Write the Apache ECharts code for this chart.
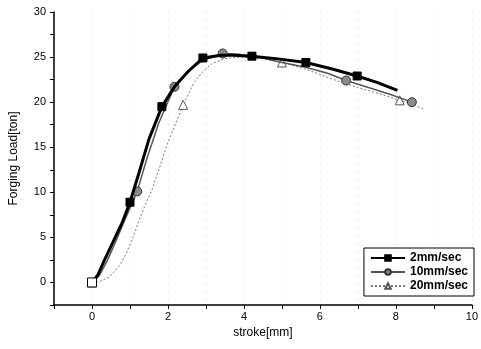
<!DOCTYPE html>
<html>
<head>
<meta charset="utf-8">
<script src="https://cdn.jsdelivr.net/npm/echarts@6/dist/echarts.min.js"></script>
<style>
  html, body { margin: 0; padding: 0; background: #fff; }
  #chart { width: 481px; height: 349px; }
</style>
</head>
<body>
<div id="chart"></div>
<script>
// curves: [stroke mm, load ton]
const curve2 = [[0, 0], [0.15, 0.8], [0.34, 2.6], [0.52, 4.2], [0.8, 6.7], [1.0, 8.9], [1.24, 12.2], [1.5, 15.9],
  [1.84, 19.5], [2.17, 21.7], [2.53, 23.4], [2.92, 24.9], [3.4, 25.2], [3.72, 25.2], [4.21, 25.1], [4.9, 24.8],
  [5.63, 24.4], [6.3, 23.7], [6.98, 22.9], [7.5, 22.2], [8.04, 21.3]]
const curve10 = [[0, 0], [0.2, 0.8], [0.4, 2.4], [0.6, 4.3], [0.85, 6.8], [1.19, 10.1], [1.45, 13.8], [1.75, 17.6],
  [2.17, 21.7], [2.5, 23.3], [2.9, 24.6], [3.44, 25.4], [3.9, 25.3], [4.5, 24.9], [5.0, 24.4], [5.6, 23.9],
  [6.2, 23.2], [6.69, 22.4], [7.3, 21.6], [7.9, 20.8], [8.42, 20.0], [8.5, 19.9]]
const curve20 = [[0, 0], [0.2, 0.1], [0.45, 0.6], [0.72, 1.8], [0.9, 3.2], [1.06, 4.8], [1.32, 7.8], [1.58, 10.3],
  [1.8, 13.0], [1.96, 15.1], [2.2, 17.6], [2.4, 19.7], [2.69, 22.2], [2.9, 23.3], [3.13, 24.2], [3.46, 24.8],
  [3.9, 25.0], [4.5, 24.8], [5.0, 24.4], [5.6, 23.7], [6.3, 22.6], [7.0, 21.6], [7.6, 20.9], [8.1, 20.2],
  [8.4, 19.8], [8.76, 19.2]]

// x positions where the symbols sit
const marks2 = [0, 1.0, 1.84, 2.92, 4.21, 5.63, 6.98]
const marks10 = [1.19, 2.17, 3.44, 6.69, 8.42]
const marks20 = [0, 2.4, 5.0, 8.1]

const names = ['2mm/sec', '10mm/sec', '20mm/sec']

const build = (curve, marks, extra) =>
  curve.map(p => {
    if (marks.indexOf(p[0]) < 0) return { value: p, symbol: 'none' }
    return extra && extra(p) ? { value: p, ...extra(p) } : { value: p }
  })

const chart = echarts.init(document.getElementById('chart'))
const font = 'Liberation Sans, Arial, sans-serif'

chart.setOption({
  animation: false,
  grid: { left: 51, right: 7, top: 12, bottom: 44 },
  legend: {
    orient: 'vertical',
    right: 7,
    top: 248,
    itemWidth: 34,
    itemHeight: 7,
    itemGap: 2,
    padding: [4, 6, 4, 6],
    borderColor: '#000',
    borderWidth: 1,
    backgroundColor: '#fff',
    textStyle: { fontFamily: font, fontSize: 12, fontWeight: 'bold', color: '#000' },
    data: names
  },
  xAxis: {
    type: 'value',
    min: -1,
    max: 10,
    interval: 1,
    name: 'stroke[mm]',
    nameLocation: 'middle',
    nameGap: 18,
    nameTextStyle: { fontFamily: font, fontSize: 12, color: '#000' },
    axisLine: { onZero: false, lineStyle: { color: '#000', width: 1.5 } },
    axisTick: { length: 4, lineStyle: { color: '#000' } },
    axisLabel: {
      fontFamily: font, fontSize: 11, color: '#000', margin: 6,
      formatter: v => (v % 2 === 0 ? String(v) : '')
    },
    splitLine: {
      show: true,
      interval: (i, v) => Number(v) % 2 === 0 && Number(v) >= 0 && Number(v) < 10,
      lineStyle: { color: '#d4d4d4', type: [1, 7] }
    }
  },
  yAxis: {
    type: 'value',
    min: -2.5,
    max: 30,
    interval: 2.5,
    name: 'Forging Load[ton]',
    nameLocation: 'middle',
    nameGap: 34,
    nameTextStyle: { fontFamily: font, fontSize: 12, color: '#000' },
    axisLine: { show: true, onZero: false, lineStyle: { color: '#000', width: 1.5 } },
    axisTick: { show: true, length: 4, lineStyle: { color: '#000' } },
    axisLabel: {
      fontFamily: font, fontSize: 11, color: '#000', margin: 8,
      formatter: v => (v % 5 === 0 ? String(v) : '')
    },
    splitLine: { show: false }
  },
  series: [
    {
      name: names[2],
      type: 'line',
      z: 2,
      showAllSymbol: true,
      symbol: 'triangle',
      symbolSize: 9,
      lineStyle: { color: '#777', width: 1, type: [2, 2] },
      itemStyle: { color: '#fff', borderColor: '#555', borderWidth: 1 },
      data: build(curve20, marks20)
    },
    {
      name: names[1],
      type: 'line',
      z: 3,
      showAllSymbol: true,
      symbol: 'circle',
      symbolSize: 9,
      lineStyle: { color: '#555', width: 1.5 },
      itemStyle: { color: '#8a8a8a', borderColor: '#333', borderWidth: 1 },
      data: build(curve10, marks10)
    },
    {
      name: names[0],
      type: 'line',
      z: 4,
      showAllSymbol: true,
      symbol: 'rect',
      symbolSize: 8,
      lineStyle: { color: '#000', width: 3 },
      itemStyle: { color: '#000', borderColor: '#000', borderWidth: 1 },
      data: build(curve2, marks2, p => (p[0] === 0 ? { itemStyle: { color: '#fff', borderColor: '#000' }, symbolSize: 9 } : null))
    }
  ]
})
</script>
</body>
</html>
